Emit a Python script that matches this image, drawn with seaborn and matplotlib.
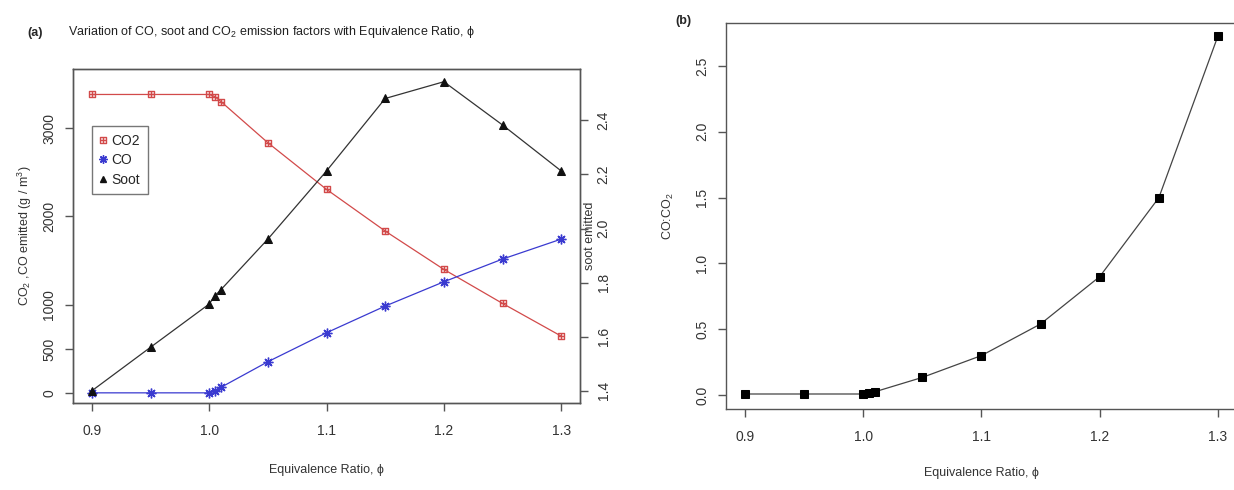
import matplotlib
matplotlib.use("Agg")
import matplotlib.pyplot as plt
import pandas as pd
import seaborn as sns
from matplotlib.lines import Line2D
from matplotlib.path import Path

# Equivalence ratio and emission factors
PHI = [0.9, 0.95, 1.0, 1.005, 1.01, 1.05, 1.1, 1.15, 1.2, 1.25, 1.3]
CO2 = [3380, 3380, 3380, 3355, 3300, 2834, 2306, 1834, 1400, 1015, 645]
CO = [3, 3, 3, 20, 65, 355, 683, 985, 1260, 1517, 1743]
SOOT = [1.40, 1.561, 1.721, 1.752, 1.774, 1.961, 2.213, 2.481, 2.543, 2.383, 2.213]
RATIO = [0.008, 0.008, 0.008, 0.018, 0.025, 0.134, 0.30, 0.54, 0.90, 1.50, 2.73]

X_TICKS = [0.9, 1.0, 1.1, 1.2, 1.3]
Y_TICKS_A = [0, 500, 1000, 2000, 3000]
Y_TICKS_SOOT = [1.4, 1.6, 1.8, 2.0, 2.2, 2.4]
Y_TICKS_B = [0.0, 0.5, 1.0, 1.5, 2.0, 2.5]

FARGE_CO2 = "#d24a4a"
FARGE_CO = "#3a3ad0"
FARGE_SOOT = "#111111"
FARGE_AKSE = "#555555"
FONT = ["Liberation Sans", "DejaVu Sans"]
FS_TEKST = 9
FS_TICK = 10

# square with a plus inside (R pch 12)
KVADRAT_PLUSS = Path(
    [(-1, -1), (1, -1), (1, 1), (-1, 1), (-1, -1), (-1, 0), (1, 0), (0, -1), (0, 1)],
    [Path.MOVETO, Path.LINETO, Path.LINETO, Path.LINETO, Path.CLOSEPOLY,
     Path.MOVETO, Path.LINETO, Path.MOVETO, Path.LINETO],
)
STJERNE = (8, 2, 0)


def stil_akse(ax):
    for spine in ax.spines.values():
        spine.set_color(FARGE_AKSE)
        spine.set_linewidth(1.0)
    ax.tick_params(axis="both", direction="out", length=6, width=1.0,
                   color=FARGE_AKSE, labelcolor="#333333", labelsize=FS_TICK)
    ax.tick_params(axis="x", pad=9)
    ax.tick_params(axis="y", pad=6)
    for lab in ax.get_yticklabels():
        lab.set_rotation(90)
        lab.set_va("center")
    ax.grid(False)


def main() -> None:
    sns.set_theme(style="ticks")
    plt.rcParams["font.family"] = FONT
    plt.rcParams["mathtext.default"] = "regular"

    df = pd.DataFrame({"phi": PHI, "co2": CO2, "co": CO, "soot": SOOT, "ratio": RATIO})

    fig = plt.figure(figsize=(12.34, 4.9), dpi=100)
    ax = fig.add_axes([0.0592, 0.177, 0.4108, 0.6816])
    ax2 = ax.twinx()

    sns.lineplot(data=df, x="phi", y="co2", ax=ax, color=FARGE_CO2, linewidth=0.9,
                 marker=KVADRAT_PLUSS, markersize=4.5, markerfacecolor="none",
                 markeredgecolor=FARGE_CO2, markeredgewidth=1.0, errorbar=None)
    sns.lineplot(data=df, x="phi", y="co", ax=ax, color=FARGE_CO, linewidth=0.9,
                 marker=STJERNE, markersize=7, markeredgecolor=FARGE_CO,
                 markeredgewidth=1.0, errorbar=None)
    sns.lineplot(data=df, x="phi", y="soot", ax=ax2, color="#333333", linewidth=0.9,
                 marker="^", markersize=6, markerfacecolor=FARGE_SOOT,
                 markeredgecolor=FARGE_SOOT, errorbar=None)

    ax.set_xlim(0.884, 1.316)
    ax.set_ylim(-115, 3665)
    ax2.set_ylim(1.354, 2.589)
    ax.set_xticks(X_TICKS)
    ax.set_xticklabels([f"{v:.1f}" for v in X_TICKS])
    ax.set_yticks(Y_TICKS_A)
    ax.set_yticklabels([str(v) for v in Y_TICKS_A])
    ax2.set_yticks(Y_TICKS_SOOT)
    ax2.set_yticklabels([f"{v:.1f}" for v in Y_TICKS_SOOT])
    ax.set_xlabel("")
    ax.set_ylabel("")
    ax2.set_ylabel("")
    stil_akse(ax)
    stil_akse(ax2)

    ax.text(0.5, -0.2, "Equivalence Ratio, ϕ", transform=ax.transAxes,
            ha="center", va="center", fontsize=FS_TEKST, color="#333333")
    ax.text(-0.095, 0.5, "CO$_2$ ,CO emitted (g / m$^3$)", transform=ax.transAxes,
            rotation=90, ha="center", va="center", fontsize=FS_TEKST, color="#333333")
    ax.text(1.0197, 0.5, "soot emitted", transform=ax.transAxes,
            rotation=90, ha="center", va="center", fontsize=FS_TEKST, color="#333333")

    handles = [
        Line2D([], [], linestyle="none", marker=KVADRAT_PLUSS, markersize=4.5,
               markerfacecolor="none", markeredgecolor=FARGE_CO2),
        Line2D([], [], linestyle="none", marker=STJERNE, markersize=6,
               markeredgecolor=FARGE_CO),
        Line2D([], [], linestyle="none", marker="^", markersize=5,
               color=FARGE_SOOT),
    ]
    leg = ax.legend(handles, ["CO2", "CO", "Soot"], loc="upper left",
                    bbox_to_anchor=(92 / 1234, 1 - 126 / 490),
                    bbox_transform=fig.transFigure, fontsize=FS_TICK, frameon=True,
                    fancybox=False, handlelength=0.5, handletextpad=0.35,
                    borderpad=0.55, labelspacing=0.4, borderaxespad=0)
    leg.get_frame().set_edgecolor(FARGE_AKSE)
    leg.get_frame().set_linewidth(1.0)

    fig.text(35 / 1234, 1 - 33 / 490, "(a)", ha="center", va="center",
             fontsize=FS_TEKST, fontweight="bold")
    fig.text(68 / 1234, 1 - 32 / 490,
             "Variation of CO, soot and CO$_2$ emission factors with Equivalence Ratio, ϕ",
             ha="left", va="center", fontsize=FS_TEKST, color="#222222")

    # panel (b): ratio CO:CO2, box runs past the right edge of the picture
    axb = fig.add_axes([0.5883, 0.1653, 0.4141, 0.7884])
    sns.lineplot(data=df, x="phi", y="ratio", ax=axb, color="#444444", linewidth=0.9,
                 marker="s", markersize=5.5, markerfacecolor="black",
                 markeredgecolor="black", errorbar=None)
    axb.set_xlim(0.884, 1.316)
    axb.set_ylim(-0.106, 2.829)
    axb.set_xticks(X_TICKS)
    axb.set_xticklabels([f"{v:.1f}" for v in X_TICKS])
    axb.set_yticks(Y_TICKS_B)
    axb.set_yticklabels([f"{v:.1f}" for v in Y_TICKS_B])
    axb.set_xlabel("")
    axb.set_ylabel("")
    stil_akse(axb)
    axb.text(0.5, -0.165, "Equivalence Ratio, ϕ", transform=axb.transAxes,
             ha="center", va="center", fontsize=FS_TEKST, color="#333333")
    axb.text(-0.112, 0.5, "CO:CO$_2$", transform=axb.transAxes,
             rotation=90, ha="center", va="center", fontsize=FS_TEKST, color="#333333")
    fig.text(683 / 1234, 1 - 21 / 490, "(b)", ha="center", va="center",
             fontsize=FS_TEKST, fontweight="bold")

    fig.savefig("out.png", dpi=100)
    plt.close(fig)


if __name__ == "__main__":
    main()
